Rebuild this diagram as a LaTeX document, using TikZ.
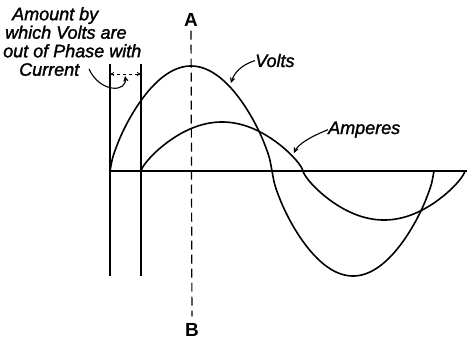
\documentclass[tikz,border=0pt]{standalone}
\usepackage{fontspec}
\setmainfont{Liberation Sans}
\newfontfamily\handfont[FakeBold=1.5]{Liberation Sans}
\usetikzlibrary{arrows.meta}
\tikzset{
  wave/.style={line width=1.6pt},
  lbl/.style={font=\handfont\fontsize{18}{18.5}\selectfont\itshape, inner sep=0pt},
  ends/.style={font=\fontsize{19}{19}\selectfont\bfseries, inner sep=2pt},
  pointer/.style={line width=1.1pt, -{Straight Barb[length=4pt,width=4pt]}},
}
\begin{document}
\begin{tikzpicture}[x=1pt,y=-1pt]
\useasboundingbox (0,0) rectangle (476,342);

% axis and the two starting lines
\coordinate (o) at (110,171);
\coordinate (e) at (467,171);
\coordinate (vtop) at (110,64);
\coordinate (vbot) at (110,276);
\coordinate (itop) at (141,64);
\coordinate (ibot) at (141,276);
\draw[line width=1.2pt] (o) -- (e);
\draw[line width=1.2pt] (vtop) -- (vbot);
\draw[line width=1.2pt] (itop) -- (ibot);

% the A--B line through the peak
\node[ends] (A) at (191,20) {A};
\node[ends] (B) at (192,330) {B};
\draw[line width=1.2pt, dash pattern=on 9pt off 5pt, shorten <=2pt, shorten >=5pt] (A) -- (B);

% the two waves
\draw[wave] plot[variable=\t, domain=0:360, samples=145, smooth]
  ({110+0.9*\t},{171-105*sin(\t)*pow(abs(sin(\t))+0.0001,-0.3)});
\draw[wave] plot[variable=\t, domain=0:360, samples=361]
  ({141+0.9*\t},{171-49*sin(\t)*pow(abs(sin(\t))+0.0001,-0.25)});

% labels
\node[lbl, anchor=base west] (volts) at (255,67) {Volts};
\node[lbl, anchor=base west] (amps) at (328,134) {Amperes};
\draw[pointer] (volts.west) .. controls (241,65) and (234,73) .. (231,83);
\draw[pointer] (amps.west) .. controls (310,137) and (298,144) .. (294,153);

\node[lbl, anchor=north west, align=left] (phase) at (3,7)
  {\hspace*{9pt}Amount by\\\hspace*{2pt}which Volts are\\out of Phase with\\\hspace*{16pt}Current};
\coordinate (curend) at (89,69);
\coordinate (dl) at (110,74);
\coordinate (dr) at (141,74);
\coordinate (dm) at (125,76);
\draw[line width=0.8pt, dash pattern=on 3pt off 3pt,
  {Straight Barb[length=3pt,width=3pt]}-{Straight Barb[length=3pt,width=3pt]}] (dl) -- (dr);
\draw[pointer] (curend) .. controls (100,93) and (128,93) .. (dm);

\end{tikzpicture}
\end{document}
